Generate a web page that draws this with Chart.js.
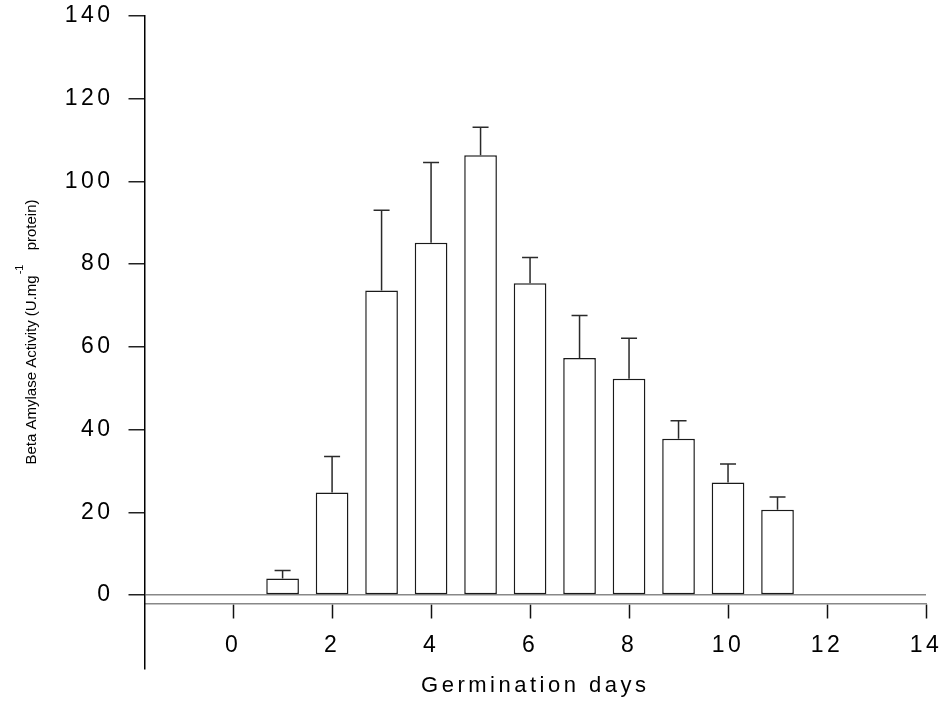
<!DOCTYPE html>
<html><head><meta charset="utf-8">
<script src="https://cdn.jsdelivr.net/npm/chart.js@4/dist/chart.umd.min.js"></script>
<style>html,body{margin:0;padding:0;background:#fff;} canvas{display:block;}</style>
</head><body>
<canvas id="c" width="946" height="709"></canvas>
<script>
// ---- data ----
const days = [1, 2, 3, 4, 5, 6, 7, 8, 9, 10, 11];
const activity = [4.0, 24.8, 73.6, 85.2, 106.3, 75.4, 57.3, 52.3, 37.8, 27.2, 20.6];
const errorUp = [1.9, 8.7, 19.4, 19.4, 6.8, 6.2, 10.3, 9.8, 4.3, 4.5, 3.1];
const xTickValues = [0, 2, 4, 6, 8, 10, 12, 14];
const yTickValues = [0, 20, 40, 60, 80, 100, 120, 140];
const xTitle = 'Germination days';
const yTitleMain = 'Beta Amylase Activity (U.mg';
const yTitleSup = '-1';
const yTitleEnd = 'protein)';

const FONT = "'Liberation Sans', Arial, sans-serif";
Chart.defaults.font.family = FONT;
Chart.defaults.color = '#000';

const spacingPlugin = {
  id: 'spacing',
  beforeDraw(chart) { chart.ctx.letterSpacing = '3.5px'; }
};

const errorBars = {
  id: 'errorBars',
  afterDatasetsDraw(chart) {
    const {ctx, scales: {x, y}} = chart;
    ctx.save();
    ctx.strokeStyle = '#2a2a2a';
    ctx.lineWidth = 1.5;
    days.forEach((d, i) => {
      const px = x.getPixelForValue(d);
      const y0 = y.getPixelForValue(activity[i]);
      const y1 = y.getPixelForValue(activity[i] + errorUp[i]);
      ctx.beginPath();
      ctx.moveTo(px, y0); ctx.lineTo(px, y1);
      ctx.moveTo(px - 8, y1); ctx.lineTo(px + 8, y1);
      ctx.stroke();
    });
    ctx.restore();
  }
};

const yTitlePlugin = {
  id: 'yTitle',
  afterDraw(chart) {
    const {ctx} = chart;
    ctx.save();
    ctx.letterSpacing = '0px';
    ctx.fillStyle = '#000';
    ctx.translate(32, 332);
    ctx.rotate(-Math.PI / 2);
    ctx.textBaseline = 'middle';
    ctx.textAlign = 'left';
    const main = '15px ' + FONT, sup = '11px ' + FONT;
    ctx.font = main;
    const w1 = ctx.measureText(yTitleMain).width;
    const w3 = ctx.measureText(yTitleEnd).width;
    const gap = 25;
    const x0 = -(w1 + gap + w3) / 2;
    ctx.fillText(yTitleMain, x0, 0);
    ctx.font = sup;
    ctx.fillText(yTitleSup, x0 + w1 + 1, -12.5);
    ctx.font = main;
    ctx.fillText(yTitleEnd, x0 + w1 + gap, 0);
    ctx.restore();
  }
};

new Chart(document.getElementById('c'), {
  type: 'bar',
  data: {
    datasets: [{
      data: days.map((d, i) => ({x: d, y: activity[i]})),
      backgroundColor: '#ffffff',
      borderColor: '#1a1a1a',
      borderWidth: 1.5,
      borderSkipped: false,
      barPercentage: 0.66,
      categoryPercentage: 1
    }]
  },
  options: {
    responsive: false,
    animation: false,
    devicePixelRatio: 1,
    layout: {padding: {left: 0, top: 16, right: 20, bottom: 40}},
    plugins: {legend: {display: false}, tooltip: {enabled: false}},
    scales: {
      x: {
        type: 'linear', min: -1.79, max: 14, offset: false,
        position: {y: -2.2},
        afterBuildTicks: s => { s.ticks = xTickValues.map(v => ({value: v})); },
        afterFit: s => { s.height = 95; s.paddingLeft = 0; s.paddingRight = 0; },
        ticks: {font: {size: 23}, padding: 14, maxRotation: 0, minRotation: 0, autoSkip: false, color: '#000'},
        grid: {offset: false, drawOnChartArea: false, drawTicks: true, tickLength: 14, tickColor: '#111', tickWidth: 1.5},
        border: {display: true, color: '#888', width: 1.5},
        title: {display: true, text: xTitle, font: {size: 22}, color: '#000', padding: 0}
      },
      y: {
        type: 'linear', min: -17.9, max: 140, position: 'left',
        afterBuildTicks: s => { s.ticks = yTickValues.map(v => ({value: v})); },
        afterFit: s => { s.width = 144.5; s.paddingTop = 0; s.paddingBottom = 0; },
        ticks: {font: {size: 23}, padding: 15, color: '#000'},
        grid: {
          drawOnChartArea: true,
          color: c => (c.tick && c.tick.value === 0) ? '#888' : 'rgba(0,0,0,0)',
          lineWidth: 1.5, tickLength: 16, tickColor: '#222', tickWidth: 1.5
        },
        border: {display: true, color: '#000', width: 1.5}
      }
    }
  },
  plugins: [spacingPlugin, errorBars, yTitlePlugin]
});
</script>
</body></html>
